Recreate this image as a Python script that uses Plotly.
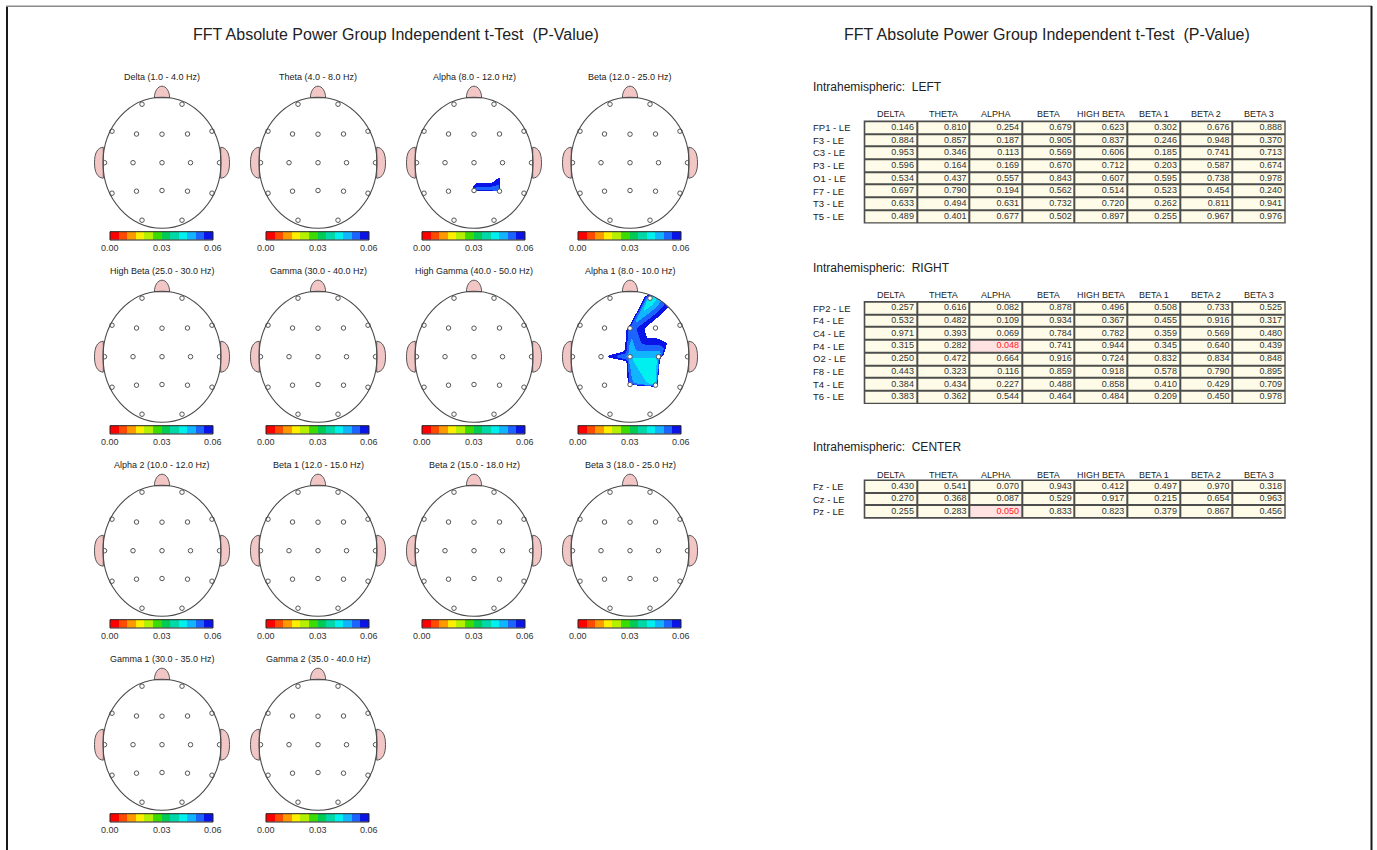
import numpy as np
import plotly.graph_objects as go

W, H = 1377, 850
FONT = "Arial, 'Liberation Sans', sans-serif"
TITLE = "FFT Absolute Power Group Independent t-Test \u00a0(P-Value)"

# ---------------------------------------------------------------- data
ELECTRODES = ["FP1", "F3", "C3", "P3", "O1", "F7", "T3", "T5",
              "FP2", "F4", "C4", "P4", "O2", "F8", "T4", "T6",
              "Fz", "Cz", "Pz"]

DELTA = [0.146, 0.884, 0.953, 0.596, 0.534, 0.697, 0.633, 0.489,
         0.257, 0.532, 0.971, 0.315, 0.250, 0.443, 0.384, 0.383,
         0.430, 0.270, 0.255]
THETA = [0.810, 0.857, 0.346, 0.164, 0.437, 0.790, 0.494, 0.401,
         0.616, 0.482, 0.393, 0.282, 0.472, 0.323, 0.434, 0.362,
         0.541, 0.368, 0.283]
ALPHA = [0.254, 0.187, 0.113, 0.169, 0.557, 0.194, 0.631, 0.677,
         0.082, 0.109, 0.069, 0.048, 0.664, 0.116, 0.227, 0.544,
         0.070, 0.087, 0.050]
BETA = [0.679, 0.905, 0.569, 0.670, 0.843, 0.562, 0.732, 0.502,
        0.878, 0.934, 0.784, 0.741, 0.916, 0.859, 0.488, 0.464,
        0.943, 0.529, 0.833]
HIGH_BETA = [0.623, 0.837, 0.606, 0.712, 0.607, 0.514, 0.720, 0.897,
             0.496, 0.367, 0.782, 0.944, 0.724, 0.918, 0.858, 0.484,
             0.412, 0.917, 0.823]
BETA_1 = [0.302, 0.246, 0.185, 0.203, 0.595, 0.523, 0.262, 0.255,
          0.508, 0.455, 0.359, 0.345, 0.832, 0.578, 0.410, 0.209,
          0.497, 0.215, 0.379]
BETA_2 = [0.676, 0.948, 0.741, 0.587, 0.738, 0.454, 0.811, 0.967,
          0.733, 0.916, 0.569, 0.640, 0.834, 0.790, 0.429, 0.450,
          0.970, 0.654, 0.867]
BETA_3 = [0.888, 0.370, 0.713, 0.674, 0.978, 0.240, 0.941, 0.976,
          0.525, 0.317, 0.480, 0.439, 0.848, 0.895, 0.709, 0.978,
          0.318, 0.963, 0.456]
GAMMA = [0.712, 0.655, 0.584, 0.433, 0.821, 0.392, 0.547, 0.904,
         0.688, 0.571, 0.806, 0.763, 0.952, 0.617, 0.486, 0.731,
         0.529, 0.874, 0.662]
HIGH_GAMMA = [0.534, 0.481, 0.662, 0.715, 0.903, 0.318, 0.427, 0.586,
              0.611, 0.742, 0.839, 0.556, 0.874, 0.465, 0.392, 0.687,
              0.598, 0.933, 0.721]
ALPHA_1 = [0.214, 0.118, 0.061, 0.152, 0.498, 0.347, 0.296, 0.452,
           0.038, 0.068, 0.045, 0.042, 0.402, 0.080, 0.200, 0.318,
           0.051, 0.045, 0.052]
ALPHA_2 = [0.387, 0.312, 0.268, 0.296, 0.741, 0.225, 0.804, 0.832,
           0.184, 0.203, 0.147, 0.121, 0.793, 0.216, 0.355, 0.688,
           0.163, 0.178, 0.119]
GAMMA_1 = [0.651, 0.593, 0.617, 0.482, 0.868, 0.356, 0.512, 0.874,
           0.702, 0.548, 0.771, 0.709, 0.927, 0.583, 0.447, 0.695,
           0.571, 0.842, 0.636]
GAMMA_2 = [0.768, 0.714, 0.552, 0.409, 0.786, 0.441, 0.603, 0.922,
           0.655, 0.618, 0.835, 0.794, 0.961, 0.664, 0.527, 0.759,
           0.493, 0.905, 0.697]

MAPS = [
    ("Delta (1.0 - 4.0 Hz)", DELTA),
    ("Theta (4.0 - 8.0 Hz)", THETA),
    ("Alpha (8.0 - 12.0 Hz)", ALPHA),
    ("Beta (12.0 - 25.0 Hz)", BETA),
    ("High Beta (25.0 - 30.0 Hz)", HIGH_BETA),
    ("Gamma (30.0 - 40.0 Hz)", GAMMA),
    ("High Gamma (40.0 - 50.0 Hz)", HIGH_GAMMA),
    ("Alpha 1 (8.0 - 10.0 Hz)", ALPHA_1),
    ("Alpha 2 (10.0 - 12.0 Hz)", ALPHA_2),
    ("Beta 1 (12.0 - 15.0 Hz)", BETA_1),
    ("Beta 2 (15.0 - 18.0 Hz)", BETA_2),
    ("Beta 3 (18.0 - 25.0 Hz)", BETA_3),
    ("Gamma 1 (30.0 - 35.0 Hz)", GAMMA_1),
    ("Gamma 2 (35.0 - 40.0 Hz)", GAMMA_2),
]

TABLE_HEADERS = ["DELTA", "THETA", "ALPHA", "BETA", "HIGH BETA",
                 "BETA 1", "BETA 2", "BETA 3"]
TABLE_COLUMNS = [DELTA, THETA, ALPHA, BETA, HIGH_BETA, BETA_1, BETA_2, BETA_3]
SECTIONS = [("LEFT", 0, 8), ("RIGHT", 8, 16), ("CENTER", 16, 19)]

P_MAX = 0.06          # colour scale upper limit
P_SIG = 0.05          # highlighted table cells
SCALE_TICKS = ["0.00", "0.03", "0.06"]
SCALE_COLORS = ["#ff0000", "#ff4a00", "#ff9900", "#ffee00", "#b4f000", "#3cdc00",
                "#00cc55", "#00d8a8", "#00f0f0", "#10b4ff", "#1c64ff", "#0a14e6"]

# ---------------------------------------------------------------- geometry
RX, RY = 59.0, 65.5   # head ellipse radii (px)
EX = [-20, -25.5, -29, -25.5, -20, -50, -57.5, -50,
      20, 25.5, 28.5, 25.5, 20, 50, 57.5, 50,
      0, 0, 0]
EY = [58.5, 28.7, 0, -28.5, -57.5, 31.5, 0, -30.5,
      58.5, 28.7, 0, -28.5, -57.5, 31.5, 0, -30.5,
      28.5, 0, -27.8]


def delaunay(px, py):
    """Bowyer-Watson triangulation, returns index triples."""
    pts = [(float(a), float(b)) for a, b in zip(px, py)]
    n = len(pts)
    pts += [(-3000.0, -3000.0), (3000.0, -3000.0), (0.0, 3000.0)]

    def circum(t):
        (ax, ay), (bx, by), (cx, cy) = (pts[i] for i in t)
        d = 2 * (ax * (by - cy) + bx * (cy - ay) + cx * (ay - by))
        a2, b2, c2 = ax * ax + ay * ay, bx * bx + by * by, cx * cx + cy * cy
        ux = (a2 * (by - cy) + b2 * (cy - ay) + c2 * (ay - by)) / d
        uy = (a2 * (cx - bx) + b2 * (ax - cx) + c2 * (bx - ax)) / d
        return ux, uy, (ax - ux) ** 2 + (ay - uy) ** 2

    tris = [(n, n + 1, n + 2)]
    for i in range(n):
        x, y = pts[i]
        bad = []
        for t in tris:
            ux, uy, r2 = circum(t)
            if (x - ux) ** 2 + (y - uy) ** 2 < r2 * (1 - 1e-9):
                bad.append(t)
        count = {}
        for t in bad:
            for e in ((t[0], t[1]), (t[1], t[2]), (t[2], t[0])):
                k = tuple(sorted(e))
                count[k] = count.get(k, 0) + 1
        tris = [t for t in tris if t not in bad]
        tris += [(a, b, i) for (a, b), c in count.items() if c == 1]
    return [t for t in tris if max(t) < n]


# rim points just outside the scalp take the mean of their two nearest electrodes
ang = np.deg2rad(np.arange(0, 360, 10))
RIM_X = 1.05 * RX * np.cos(ang)
RIM_Y = 1.05 * RY * np.sin(ang)
ex, ey = np.array(EX, float), np.array(EY, float)
RIM_NEAR = [np.argsort((ex - a) ** 2 + (ey - b) ** 2)[:2] for a, b in zip(RIM_X, RIM_Y)]
ALL_X = np.concatenate([ex, RIM_X])
ALL_Y = np.concatenate([ey, RIM_Y])
TRIS = delaunay(ALL_X, ALL_Y)

STEP = 0.5
GX = np.arange(-60, 60 + STEP, STEP)
GY = np.arange(-66, 66 + STEP, STEP)
MX, MY = np.meshgrid(GX, GY)
INSIDE = (MX / RX) ** 2 + (MY / RY) ** 2 <= 1.0

_k = np.arange(-6, 7) * STEP
KERNEL = np.exp(-0.5 * (_k / 1.5) ** 2)
KERNEL /= KERNEL.sum()


def smooth(z):
    pad = len(KERNEL) // 2
    zp = np.pad(z, pad, mode="edge")
    zp = np.apply_along_axis(lambda r: np.convolve(r, KERNEL, mode="same"), 1, zp)
    zp = np.apply_along_axis(lambda r: np.convolve(r, KERNEL, mode="same"), 0, zp)
    return zp[pad:-pad, pad:-pad]


def scalp_grid(vals):
    va = np.array(vals, float)
    v = np.concatenate([va, [va[idx].mean() for idx in RIM_NEAR]])
    z = np.full(MX.shape, 1.0)
    for a, b, c in TRIS:
        x1, y1, x2, y2, x3, y3 = ALL_X[a], ALL_Y[a], ALL_X[b], ALL_Y[b], ALL_X[c], ALL_Y[c]
        det = (y2 - y3) * (x1 - x3) + (x3 - x2) * (y1 - y3)
        l1 = ((y2 - y3) * (MX - x3) + (x3 - x2) * (MY - y3)) / det
        l2 = ((y3 - y1) * (MX - x3) + (x1 - x3) * (MY - y3)) / det
        l3 = 1 - l1 - l2
        m = (l1 >= -1e-9) & (l2 >= -1e-9) & (l3 >= -1e-9)
        z[m] = (l1 * v[a] + l2 * v[b] + l3 * v[c])[m]
    z = smooth(z)
    z[~INSIDE] = np.nan
    z[z >= P_MAX] = np.nan
    if np.all(np.isnan(z)):
        return None
    out = np.round(z, 5).astype(object)
    out[np.isnan(z)] = None
    return out.tolist()


nb = len(SCALE_COLORS)
CSCALE = []
for i, col in enumerate(SCALE_COLORS):
    CSCALE += [[i / nb, col], [(i + 1) / nb, col]]
LEVELS = [(i + 0.5) * P_MAX / nb for i in range(nb)]

# ---------------------------------------------------------------- figure
fig = go.Figure()
layout_axes = {}
shapes = []
annotations = []

EAR = "M {s}58.7,15.5 C {s}65,15 {s}67.5,9 {s}67.5,0 C {s}67.5,-9 {s}65,-15 {s}58.7,-15.5 Z"
NOSE = "M -7.6,64.9 C -7.6,71 -4.5,76.5 0,76.5 C 4.5,76.5 7.6,71 7.6,64.9 Z"
BAR_X0, BAR_X1, BAR_Y0, BAR_Y1 = -52.0, 51.0, -77.3, -69.0

for k, (name, vals) in enumerate(MAPS):
    r, c = divmod(k, 4)
    cx = 162 + 156 * c
    cy = 162.7 + 194 * r
    sfx = "" if k == 0 else str(k + 1)
    xa, ya = "x" + sfx, "y" + sfx
    layout_axes["xaxis" + sfx] = dict(domain=[(cx - 76) / W, (cx + 76) / W], range=[-76, 76],
                                      visible=False, fixedrange=True, anchor=ya)
    layout_axes["yaxis" + sfx] = dict(domain=[1 - (cy + 95) / H, 1 - (cy - 95) / H], range=[-95, 95],
                                      visible=False, fixedrange=True, anchor=xa)

    zmap = scalp_grid(vals)
    if zmap is not None:
        fig.add_trace(go.Heatmap(x=GX, y=GY, z=zmap, colorscale=CSCALE, zmin=0, zmax=P_MAX,
                                 showscale=False, hoverinfo="skip", zsmooth=False,
                                 xaxis=xa, yaxis=ya))
    fig.add_trace(go.Heatmap(x=np.linspace(BAR_X0, BAR_X1, nb + 1), y=[BAR_Y0, BAR_Y1], z=[LEVELS],
                             colorscale=CSCALE, zmin=0, zmax=P_MAX, showscale=False,
                             hoverinfo="skip", xaxis=xa, yaxis=ya))
    fig.add_trace(go.Scatter(x=EX, y=EY, mode="markers", text=ELECTRODES, hoverinfo="text",
                             marker=dict(size=4.5, color="white", line=dict(color="#555555", width=1)),
                             showlegend=False, xaxis=xa, yaxis=ya))

    ln = dict(color="#555555", width=1)
    for s in ("-", ""):
        shapes.append(dict(type="path", path=EAR.format(s=s), xref=xa, yref=ya,
                           fillcolor="#f3c6c6", line=ln))
    shapes.append(dict(type="path", path=NOSE, xref=xa, yref=ya, fillcolor="#f3c6c6", line=ln))
    shapes.append(dict(type="circle", x0=-RX, x1=RX, y0=-RY, y1=RY, xref=xa, yref=ya,
                       line=dict(color="#4a4a4a", width=1.1)))
    shapes.append(dict(type="rect", x0=BAR_X0, x1=BAR_X1, y0=BAR_Y0, y1=BAR_Y1, xref=xa, yref=ya,
                       line=dict(color="#222222", width=1)))

    annotations.append(dict(x=0, y=85.7, xref=xa, yref=ya, text=name, showarrow=False,
                            xanchor="center", font=dict(size=9, color="#222222")))
    for t, lab in zip(np.linspace(BAR_X0, BAR_X1, len(SCALE_TICKS)), SCALE_TICKS):
        annotations.append(dict(x=t, y=-85.6, xref=xa, yref=ya, text=lab, showarrow=False,
                                xanchor="center", font=dict(size=9, color="#333333")))

# ---------------------------------------------------------------- tables
TX0, TX1 = 780, 1365
tsfx = str(len(MAPS) + 1)
txa, tya = "x" + tsfx, "y" + tsfx
layout_axes["xaxis" + tsfx] = dict(domain=[TX0 / W, TX1 / W], range=[TX0, TX1],
                                   visible=False, fixedrange=True, anchor=tya)
layout_axes["yaxis" + tsfx] = dict(domain=[0, 1], range=[H, 0], visible=False,
                                   fixedrange=True, anchor=txa)

COL0, COLW, ROWH = 864.3, 52.6, 12.7
LABEL_X = 811
SECTION_Y = [(87, 114, 121.2), (268, 295, 301.7), (447, 474.5, 480.0)]

for (side, i0, i1), (ty, hy, top) in zip(SECTIONS, SECTION_Y):
    nrow = i1 - i0
    ncol = len(TABLE_COLUMNS)
    xedges = [COL0 + COLW * j for j in range(ncol + 1)]
    yedges = [top + ROWH * i for i in range(nrow + 1)]
    vals = np.array([col[i0:i1] for col in TABLE_COLUMNS]).T  # rows x cols
    sig = (vals <= P_SIG).astype(int)

    shapes.append(dict(type="rect", xref=txa, yref=tya, x0=xedges[0] - 0.6, x1=xedges[-1] + 0.6,
                       y0=yedges[0] - 0.6, y1=yedges[-1] + 0.6, fillcolor="#4d4d4d",
                       line=dict(width=0), layer="below"))
    fig.add_trace(go.Heatmap(x=xedges, y=yedges, z=sig.tolist(), zmin=0, zmax=1,
                             colorscale=[[0, "#fefce8"], [0.5, "#fefce8"], [0.5, "#ffe3e3"], [1, "#ffe3e3"]],
                             xgap=2, ygap=2, showscale=False, hoverinfo="skip",
                             xaxis=txa, yaxis=tya))
    tx, ty_, tt, tc = [], [], [], []
    for i in range(nrow):
        for j in range(ncol):
            tx.append(xedges[j + 1] - 3)
            ty_.append(top + ROWH * (i + 0.5))
            tt.append(f"{vals[i, j]:.3f}")
            tc.append("#ff2020" if sig[i, j] else "#333333")
    fig.add_trace(go.Scatter(x=tx, y=ty_, text=tt, mode="text", textposition="middle left",
                             textfont=dict(size=9, color=tc, family=FONT), hoverinfo="skip",
                             cliponaxis=False, showlegend=False, xaxis=txa, yaxis=tya))

    annotations.append(dict(x=LABEL_X, y=ty, xref=txa, yref=tya, xanchor="left",
                            text=f"Intrahemispheric: \u00a0{side}", showarrow=False,
                            font=dict(size=12, color="#222222")))
    for j, h in enumerate(TABLE_HEADERS):
        annotations.append(dict(x=COL0 + COLW * (j + 0.5), y=hy, xref=txa, yref=tya, text=h,
                                xanchor="center", showarrow=False,
                                font=dict(size=9, color="#222222")))
    for i, e in enumerate(ELECTRODES[i0:i1]):
        annotations.append(dict(x=LABEL_X, y=top + ROWH * (i + 0.5), xref=txa, yref=tya,
                                xanchor="left", text=f"{e} - LE", showarrow=False,
                                font=dict(size=9.5, color="#222222")))

# ---------------------------------------------------------------- page
for xc in (396, 1047):
    annotations.append(dict(x=xc / W, y=1 - 35 / H, xref="paper", yref="paper", text=TITLE,
                            xanchor="center", yanchor="middle", showarrow=False,
                            font=dict(size=16, color="#222222")))

shapes += [
    dict(type="line", xref="paper", yref="paper", x0=7 / W, x1=7 / W, y0=1 - 6 / H, y1=0,
         line=dict(color="#1a1a1a", width=2)),
    dict(type="line", xref="paper", yref="paper", x0=6 / W, x1=1372 / W, y0=1 - 6.3 / H, y1=1 - 6.3 / H,
         line=dict(color="#8a8a8a", width=1.5)),
    dict(type="line", xref="paper", yref="paper", x0=1371.5 / W, x1=1371.5 / W, y0=1 - 6 / H, y1=0,
         line=dict(color="#1a1a1a", width=2)),
]

fig.update_layout(
    width=W, height=H, margin=dict(l=0, r=0, t=0, b=0),
    paper_bgcolor="white", plot_bgcolor="rgba(0,0,0,0)",
    font=dict(family=FONT, color="#222222"),
    showlegend=False, shapes=shapes, annotations=annotations,
    **layout_axes,
)

fig.write_html("out.html", config={"displayModeBar": False})
